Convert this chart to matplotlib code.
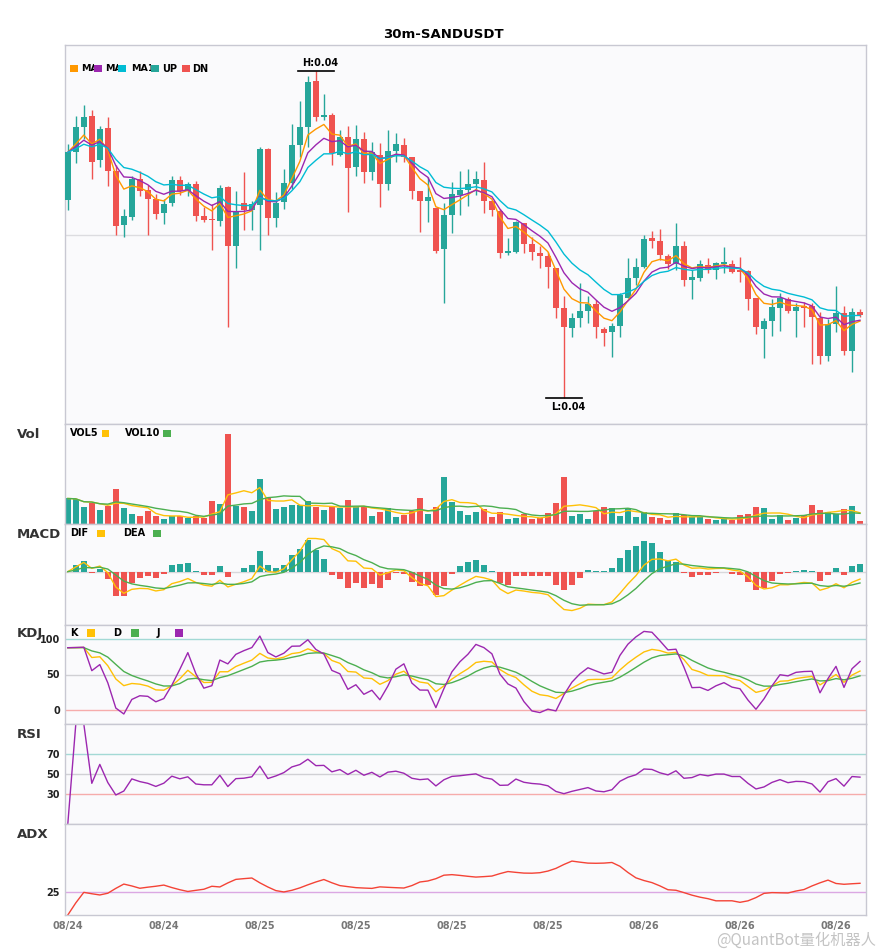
import numpy as np
import pandas as pd
import matplotlib
matplotlib.use("Agg")
import matplotlib.pyplot as plt
from matplotlib.patches import Rectangle

# =========================
# DATA
# =========================
title = "30m-SANDUSDT"

open_ = [0.04234, 0.04282, 0.04307, 0.04318, 0.04274, 0.04306, 0.04263, 0.04209, 0.04217, 0.04255,
         0.04244, 0.04235, 0.04221, 0.04231, 0.04254, 0.04243, 0.04250, 0.04218, 0.04215, 0.04213,
         0.04247, 0.04189, 0.04231, 0.04224, 0.04229, 0.04285, 0.04216, 0.04232, 0.04251, 0.04289,
         0.04307, 0.04353, 0.04317, 0.04319, 0.04279, 0.04297, 0.04267, 0.04295, 0.04262, 0.04279,
         0.04250, 0.04283, 0.04289, 0.04277, 0.04243, 0.04233, 0.04226, 0.04186, 0.04219, 0.04239,
         0.04244, 0.04250, 0.04254, 0.04233, 0.04223, 0.04182, 0.04183, 0.04211, 0.04191, 0.04182,
         0.04179, 0.04167, 0.04127, 0.04107, 0.04117, 0.04124, 0.04131, 0.04106, 0.04103, 0.04109,
         0.04137, 0.04157, 0.04168, 0.04197, 0.04194, 0.04179, 0.04171, 0.04189, 0.04155, 0.04157,
         0.04170, 0.04165, 0.04171, 0.04171, 0.04164, 0.04164, 0.04137, 0.04106, 0.04114, 0.04127,
         0.04136, 0.04124, 0.04128, 0.04129, 0.04117, 0.04079, 0.04111, 0.04122, 0.04084, 0.04123]

high = [0.04290, 0.04318, 0.04329, 0.04324, 0.04308, 0.04317, 0.04269, 0.04225, 0.04258, 0.04263,
        0.04249, 0.04240, 0.04235, 0.04258, 0.04258, 0.04252, 0.04253, 0.04227, 0.04230, 0.04249,
        0.04248, 0.04243, 0.04262, 0.04233, 0.04287, 0.04286, 0.04242, 0.04265, 0.04310, 0.04333,
        0.04358, 0.04363, 0.04340, 0.04321, 0.04304, 0.04308, 0.04309, 0.04302, 0.04292, 0.04291,
        0.04304, 0.04301, 0.04296, 0.04277, 0.04243, 0.04257, 0.04226, 0.04231, 0.04252, 0.04263,
        0.04265, 0.04263, 0.04272, 0.04234, 0.04225, 0.04197, 0.04213, 0.04211, 0.04198, 0.04189,
        0.04183, 0.04167, 0.04139, 0.04122, 0.04152, 0.04139, 0.04135, 0.04108, 0.04112, 0.04142,
        0.04177, 0.04177, 0.04200, 0.04203, 0.04205, 0.04181, 0.04211, 0.04194, 0.04165, 0.04175,
        0.04177, 0.04173, 0.04188, 0.04175, 0.04178, 0.04165, 0.04137, 0.04117, 0.04136, 0.04142,
        0.04138, 0.04132, 0.04133, 0.04132, 0.04123, 0.04116, 0.04149, 0.04129, 0.04127, 0.04126]

low = [0.04224, 0.04271, 0.04295, 0.04255, 0.04267, 0.04248, 0.04200, 0.04198, 0.04214, 0.04238,
       0.04200, 0.04215, 0.04210, 0.04228, 0.04239, 0.04238, 0.04213, 0.04212, 0.04185, 0.04208,
       0.04108, 0.04167, 0.04204, 0.04204, 0.04185, 0.04200, 0.04207, 0.04225, 0.04245, 0.04277,
       0.04287, 0.04313, 0.04314, 0.04269, 0.04278, 0.04222, 0.04258, 0.04251, 0.04254, 0.04227,
       0.04244, 0.04272, 0.04272, 0.04235, 0.04202, 0.04212, 0.04182, 0.04132, 0.04201, 0.04219,
       0.04228, 0.04239, 0.04221, 0.04218, 0.04177, 0.04180, 0.04182, 0.04182, 0.04175, 0.04167,
       0.04147, 0.04117, 0.04037, 0.04098, 0.04108, 0.04112, 0.04097, 0.04089, 0.04078, 0.04098,
       0.04137, 0.04150, 0.04167, 0.04187, 0.04175, 0.04166, 0.04165, 0.04149, 0.04136, 0.04154,
       0.04162, 0.04156, 0.04162, 0.04162, 0.04153, 0.04125, 0.04101, 0.04077, 0.04099, 0.04104,
       0.04122, 0.04098, 0.04108, 0.04071, 0.04071, 0.04074, 0.04103, 0.04080, 0.04063, 0.04118]

close = [0.04282, 0.04307, 0.04317, 0.04272, 0.04305, 0.04263, 0.04208, 0.04218, 0.04255, 0.04243,
         0.04235, 0.04220, 0.04230, 0.04254, 0.04243, 0.04250, 0.04218, 0.04214, 0.04214, 0.04246,
         0.04189, 0.04222, 0.04224, 0.04230, 0.04285, 0.04216, 0.04231, 0.04251, 0.04289, 0.04307,
         0.04352, 0.04317, 0.04319, 0.04281, 0.04297, 0.04266, 0.04295, 0.04262, 0.04282, 0.04250,
         0.04283, 0.04290, 0.04277, 0.04243, 0.04233, 0.04237, 0.04184, 0.04219, 0.04240, 0.04244,
         0.04250, 0.04255, 0.04233, 0.04224, 0.04182, 0.04183, 0.04212, 0.04191, 0.04183, 0.04179,
         0.04168, 0.04127, 0.04108, 0.04117, 0.04124, 0.04131, 0.04108, 0.04102, 0.04109, 0.04140,
         0.04157, 0.04168, 0.04196, 0.04194, 0.04180, 0.04171, 0.04189, 0.04155, 0.04158, 0.04171,
         0.04165, 0.04172, 0.04172, 0.04163, 0.04163, 0.04136, 0.04108, 0.04114, 0.04128, 0.04137,
         0.04124, 0.04128, 0.04127, 0.04118, 0.04079, 0.04111, 0.04122, 0.04084, 0.04123, 0.04120]

volume = [77, 75, 50, 63, 41, 54, 107, 47, 29, 23,
          38, 23, 14, 23, 24, 17, 24, 17, 68, 59,
          272, 53, 50, 38, 137, 78, 44, 50, 56, 56,
          68, 50, 41, 50, 47, 71, 50, 50, 23, 35,
          47, 20, 28, 38, 80, 29, 50, 143, 65, 38,
          26, 35, 44, 20, 35, 14, 17, 29, 14, 17,
          32, 62, 143, 23, 29, 14, 38, 50, 47, 23,
          47, 20, 35, 20, 17, 11, 32, 28, 20, 20,
          14, 11, 17, 11, 26, 29, 50, 47, 14, 26,
          11, 18, 26, 56, 41, 35, 29, 44, 53, 8]

tick_pos = [0, 12, 24, 36, 48, 60, 72, 84, 96]
tick_labels = ["08/24", "08/24", "08/25", "08/25", "08/25", "08/25", "08/26", "08/26", "08/26"]

ma_periods = [5, 8, 13]
macd_fast, macd_slow, macd_signal = 6, 13, 5

# =========================
# STYLE
# =========================
UP = "#26a69a"
DN = "#ef5350"
MA_COLORS = ["#ff9800", "#9c27b0", "#00bcd4"]
YEL = "#ffc107"
GRN = "#4caf50"
PUR = "#9c27b0"
BG = "#fafafc"
SPINE = "#c8c8d2"

W, H = 885, 950

# =========================
# INDICATORS
# =========================
df = pd.DataFrame({"open": open_, "high": high, "low": low, "close": close, "vol": volume})
n = len(df)
x = np.arange(n)
up = (df["close"] >= df["open"]).values

for p in ma_periods:
    df[f"ma{p}"] = df["close"].ewm(span=p, adjust=False).mean()
df["vol5"] = df["vol"].rolling(5, min_periods=1).mean()
df["vol10"] = df["vol"].rolling(10, min_periods=1).mean()

ema_f = df["close"].ewm(span=macd_fast, adjust=False).mean()
ema_s = df["close"].ewm(span=macd_slow, adjust=False).mean()
df["dif"] = ema_f - ema_s
df["dea"] = df["dif"].ewm(span=macd_signal, adjust=False).mean()
df["hist"] = 2 * (df["dif"] - df["dea"])

low9 = df["low"].rolling(9, min_periods=1).min()
high9 = df["high"].rolling(9, min_periods=1).max()
rsv = (df["close"] - low9) / (high9 - low9) * 100
df["k"] = rsv.ewm(com=2, adjust=False).mean()
df["d"] = df["k"].ewm(com=2, adjust=False).mean()
df["j"] = 3 * df["k"] - 2 * df["d"]

diff = df["close"].diff()
gain = diff.clip(lower=0).ewm(com=13).mean()
loss = (-diff.clip(upper=0)).ewm(com=13).mean()
df["rsi"] = (100 * gain / (gain + loss)).fillna(0)

prev_c = df["close"].shift(1)
tr = pd.concat([df["high"] - df["low"], (df["high"] - prev_c).abs(),
                (df["low"] - prev_c).abs()], axis=1).max(axis=1)
up_move = df["high"].diff()
dn_move = -df["low"].diff()
pdm = np.where((up_move > dn_move) & (up_move > 0), up_move, 0.0)
mdm = np.where((dn_move > up_move) & (dn_move > 0), dn_move, 0.0)
atr = tr.ewm(span=14, adjust=False).mean()
pdi = pd.Series(pdm).ewm(span=14, adjust=False).mean() / atr * 100
mdi = pd.Series(mdm).ewm(span=14, adjust=False).mean() / atr * 100
dx = ((pdi - mdi).abs() / (pdi + mdi) * 100).fillna(0)
df["adx"] = dx.ewm(span=14, adjust=False).mean()

# =========================
# FIGURE
# =========================
fig = plt.figure(figsize=(W / 100, H / 100), dpi=100)
fig.patch.set_facecolor("white")


def panel(top, bottom):
    ax = fig.add_axes([65 / W, 1 - bottom / H, 801 / W, (bottom - top) / H])
    ax.set_facecolor(BG)
    for s in ax.spines.values():
        s.set_color(SPINE)
        s.set_linewidth(1)
    ax.tick_params(length=0, labelsize=7, labelcolor="#222222")
    ax.set_xlim(-0.35, 99.75)
    ax.set_xticks([])
    return ax


def ptext(px, py, s, **kw):
    fig.text(px / W, 1 - py / H, s, **kw)


def prect(px, py, w, h, color, z=6):
    # py is the vertical centre, in pixels from the top
    fig.add_artist(Rectangle((px / W, 1 - (py + h / 2) / H), w / W, h / H,
                             transform=fig.transFigure, facecolor=color,
                             edgecolor="none", zorder=z))


def bold_ticks(ax):
    for lbl in ax.get_yticklabels():
        lbl.set_fontweight("bold")


ax_main = panel(45, 424)
ax_vol = panel(424, 524)
ax_macd = panel(524, 625)
ax_kdj = panel(625, 724)
ax_rsi = panel(724, 824)
ax_adx = panel(824, 915)

# ---- main candles
body_lo = np.minimum(df["open"], df["close"])
body_h = np.maximum((df["close"] - df["open"]).abs(), 0.000012)
colors = np.where(up, UP, DN)
ax_main.vlines(x, df["low"], df["high"], color=colors, lw=1, zorder=2)
ax_main.bar(x, body_h, bottom=body_lo, width=0.75, color=colors, zorder=3)
for p, c in zip(ma_periods, MA_COLORS):
    ax_main.plot(x, df[f"ma{p}"], color=c, lw=1.0, zorder=4)

lo_p, hi_p = df["low"].min(), df["high"].max()
rng = hi_p - lo_p
ax_main.set_ylim(lo_p - 0.08 * rng, hi_p + 0.08 * rng)
ax_main.set_yticks([(lo_p + hi_p) / 2])
ax_main.set_yticklabels([])
ax_main.grid(axis="y", color="#dcdce0", lw=1)
ax_main.set_axisbelow(True)

ih = int(df["high"].idxmax())
il = int(df["low"].idxmin())
ax_main.plot([ih - 2.25, ih + 2.25], [hi_p, hi_p], color="black", lw=1.2, zorder=5)
ax_main.annotate(f"H:{hi_p:.2f}", xy=(ih + 0.6, hi_p), xytext=(0, 2.5), textcoords="offset points",
                 ha="center", va="bottom", fontsize=7, fontweight="bold")
ax_main.plot([il - 2.25, il + 2.25], [lo_p, lo_p], color="black", lw=1.2, zorder=5)
ax_main.annotate(f"L:{lo_p:.2f}", xy=(il + 0.6, lo_p), xytext=(0, -3), textcoords="offset points",
                 ha="center", va="top", fontsize=7, fontweight="bold")

# ---- volume
ax_vol.bar(x, df["vol"], width=0.75, color=colors, zorder=2)
ax_vol.plot(x, df["vol5"], color=YEL, lw=1.0, zorder=3)
ax_vol.plot(x, df["vol10"], color=GRN, lw=1.0, zorder=3)
ax_vol.set_ylim(0, df["vol"].max() * 1.11)
ax_vol.set_yticks([])

# ---- MACD
ax_macd.axhline(0, color="#d8d8dc", lw=1, zorder=1)
ax_macd.bar(x, df["hist"], width=0.75, color=np.where(df["hist"] >= 0, UP, DN), zorder=2)
ax_macd.plot(x, df["dif"], color=YEL, lw=1.0, zorder=3)
ax_macd.plot(x, df["dea"], color=GRN, lw=1.0, zorder=3)
mlo = min(df["dif"].min(), df["dea"].min(), df["hist"].min())
mhi = max(df["dif"].max(), df["dea"].max(), df["hist"].max())
ax_macd.set_ylim(mlo - 0.2 * (mhi - mlo), mhi + 0.2 * (mhi - mlo))
ax_macd.set_yticks([])

# ---- KDJ
ax_kdj.axhline(100, color="#a3d9d5", lw=1, zorder=1)
ax_kdj.axhline(50, color="#d0d0d4", lw=1, zorder=1)
ax_kdj.axhline(0, color="#f6acab", lw=1, zorder=1)
ax_kdj.plot(x, df["k"], color=YEL, lw=1.0)
ax_kdj.plot(x, df["d"], color=GRN, lw=1.0)
ax_kdj.plot(x, df["j"], color=PUR, lw=1.0)
ax_kdj.set_ylim(-20, 120)
ax_kdj.set_yticks([0, 50, 100])
bold_ticks(ax_kdj)

# ---- RSI
ax_rsi.axhline(70, color="#a3d9d5", lw=1, zorder=1)
ax_rsi.axhline(50, color="#d0d0d4", lw=1, zorder=1)
ax_rsi.axhline(30, color="#f6acab", lw=1, zorder=1)
ax_rsi.plot(x, df["rsi"], color=PUR, lw=1.0)
ax_rsi.set_ylim(0, 100)
ax_rsi.set_yticks([30, 50, 70])
bold_ticks(ax_rsi)

# ---- ADX
ax_adx.axhline(25, color="#dba8e3", lw=1, zorder=1)
ax_adx.plot(x, df["adx"], color="#f44336", lw=1.0)
ax_adx.set_ylim(0, 100)
ax_adx.set_yticks([25])
bold_ticks(ax_adx)
ax_adx.set_xticks(tick_pos)
ax_adx.set_xticklabels(tick_labels, fontsize=7, fontweight="bold", color="#777777")
ax_adx.tick_params(axis="x", pad=4)

# ---- titles / labels / legends
ptext(443, 34, title, ha="center", va="center", fontsize=9.5, fontweight="bold")
for name, py in [("Vol", 435), ("MACD", 535), ("KDJ", 634), ("RSI", 735), ("ADX", 835)]:
    ptext(17, py, name, ha="left", va="center", fontsize=9.5, fontweight="bold", color="#333333")

leg_kw = dict(ha="left", va="center", fontsize=7, fontweight="bold", zorder=5)
# main legend: the MA labels run under the next marker, only "MA" stays visible
ma_labels = [f"MA{p}" for p in ma_periods]
main_items = [(70, 81, ma_labels[0], MA_COLORS[0]), (94.3, 105, ma_labels[1], MA_COLORS[1]),
              (118.3, 131, ma_labels[2], MA_COLORS[2]), (151, 162, "UP", UP),
              (182, 192, "DN", DN)]
for i, (sx, tx, lbl, c) in enumerate(main_items):
    ptext(tx, 68.7, lbl, **dict(leg_kw, fontsize=6.8 if lbl.startswith("MA") else 7))
    if i < 3:
        nsx, ntx = main_items[i + 1][0], main_items[i + 1][1]
        prect(nsx, 68.7, ntx - nsx - 0.8, 10, BG, z=5.5)
for sx, tx, lbl, c in main_items:
    prect(sx, 68.7, 7.5, 7.5, c)

for tx, sx, lbl, c, py in [(70, 101.7, "VOL5", YEL, 433.3), (125, 163.3, "VOL10", GRN, 433.3),
                           (70, 97.3, "DIF", YEL, 533.5), (123.3, 153.3, "DEA", GRN, 533.5),
                           (70, 87.3, "K", YEL, 633), (113.3, 131, "D", GRN, 633),
                           (156.7, 175, "J", PUR, 633)]:
    ptext(tx, py, lbl, **leg_kw)
    prect(sx, py, 7.5, 7.5, c)

# watermark, kept under the date labels
ptext(876, 940, "@QuantBot量化机器人", ha="right", va="center", fontsize=11,
      color="#c4c4c4", family=["Noto Sans CJK SC", "DejaVu Sans"], zorder=7)

fig.savefig("out.png", dpi=100, facecolor="white")
